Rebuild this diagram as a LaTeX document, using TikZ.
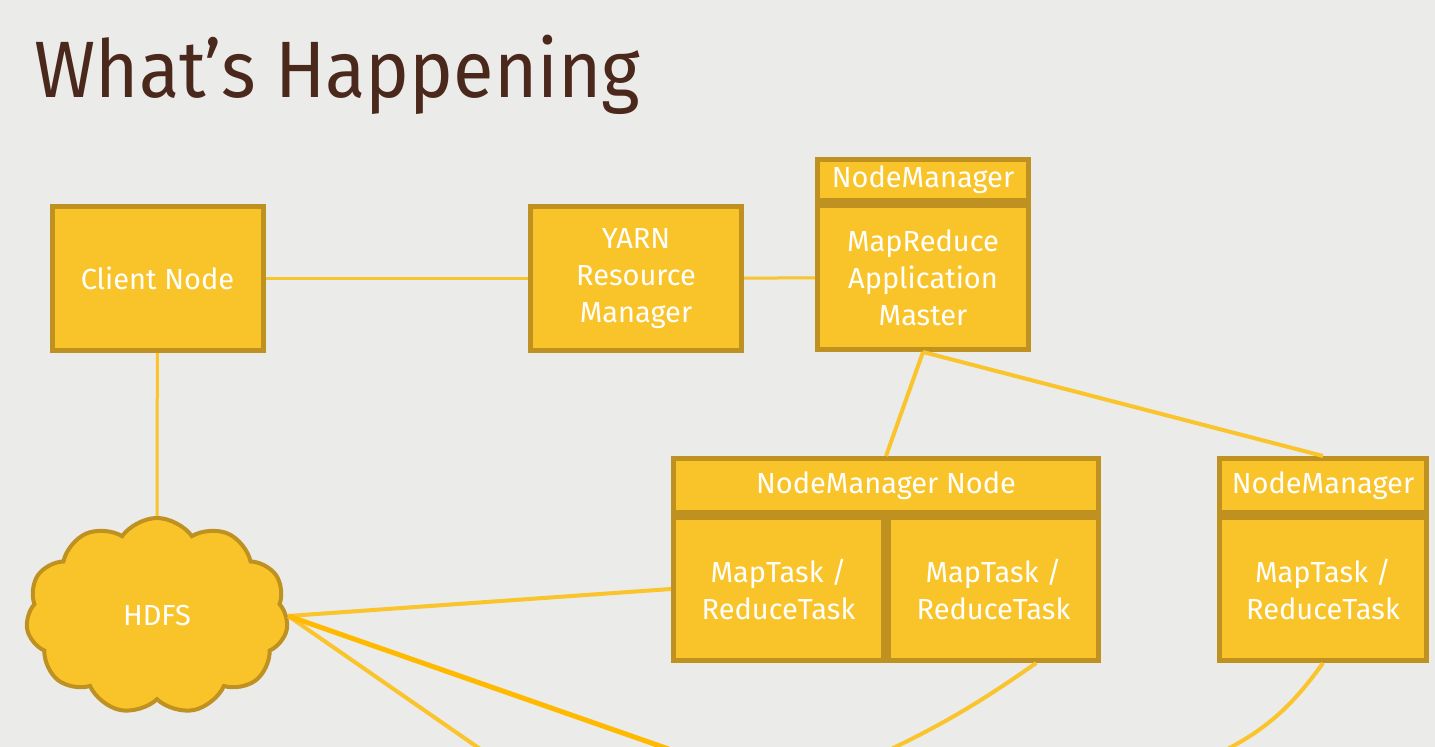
\documentclass[tikz,border=0pt]{standalone}
\usepackage{fontspec}
\setmainfont{Fira Sans}
\usetikzlibrary{shapes.symbols,positioning}
\definecolor{slidebg}{RGB}{235,235,233}
\definecolor{boxfill}{RGB}{249,196,42}
\definecolor{boxline}{RGB}{190,145,32}
\definecolor{wireyellow}{RGB}{250,196,45}
\definecolor{wireorange}{RGB}{255,186,0}
\definecolor{titlebrown}{RGB}{75,40,28}

\begin{document}
\begin{tikzpicture}[x=0.5pt,y=-0.5pt,
    box/.style={draw=boxline,fill=boxfill,line width=2.5pt,text=white,align=center,
      inner sep=0pt,font=\fontsize{14.5}{18.5}\selectfont},
    wire/.style={wireyellow,line width=1.5pt},
    link/.style={wireyellow,line width=2pt},
    bold link/.style={wireorange,line width=2.5pt}]
  \fill[slidebg] (0,0) rectangle (1435,747);
  \clip (0,0) rectangle (1435,747);
  \node[anchor=base west,text=titlebrown,font=\fontsize{40}{48}\selectfont,xscale=0.925] (title) at (28,98) {What’s Happening};

  \node[box,minimum width=105.5pt,minimum height=72pt] (client) at (157.5,278.5) {Client Node};
  \node[box,minimum width=105.5pt,minimum height=72pt] (yarn) at (636,278.5) {YARN\\Resource\\Manager};
  \node[box,minimum width=105.5pt,minimum height=20.5pt] (amhead) at (923,180) {NodeManager};
  \node[box,minimum width=105.5pt,minimum height=72pt,below=0pt of amhead] (ambody) {MapReduce\\Application\\Master};

  \node[box,minimum width=212.5pt,minimum height=27pt] (nmhead) at (886,485.5) {NodeManager Node};
  \node[box,minimum width=105pt,minimum height=71.5pt,below right=0pt of nmhead.south west] (taskA) {MapTask /\\ReduceTask};
  \node[box,minimum width=105pt,minimum height=71.5pt,right=0pt of taskA] (taskB) {MapTask /\\ReduceTask};

  \node[box,minimum width=103.5pt,minimum height=27pt] (nmhead2) at (1323,485.5) {NodeManager};
  \node[box,minimum width=103.5pt,minimum height=71.5pt,below=0pt of nmhead2] (taskC) {MapTask /\\ReduceTask};

  \node[box,cloud,cloud puffs=11,cloud puff arc=110,aspect=1.33,line width=2pt,
    minimum width=131pt,minimum height=98pt] (hdfs) at (157,616) {HDFS};

  % ends below the slide
  \coordinate (outA) at (496,760);
  \coordinate (outB) at (700,760);
  \coordinate (outC) at (868,760);
  \coordinate (outD) at (1205,760);

  \path[wire] (client) edge (yarn)
    (yarn) edge (ambody)
    (client) edge (hdfs.north);
  \path[link] (ambody.south) edge (nmhead.north)
    (ambody.south) edge (nmhead2.north)
    (hdfs.east) edge (taskA.west)
    (hdfs.east) edge (outA)
    (taskB.-60) edge[bend left=5] (outC)
    (taskC.south) edge[bend left=15] (outD);
  \path[bold link] (hdfs.east) edge (outB);
\end{tikzpicture}
\end{document}
